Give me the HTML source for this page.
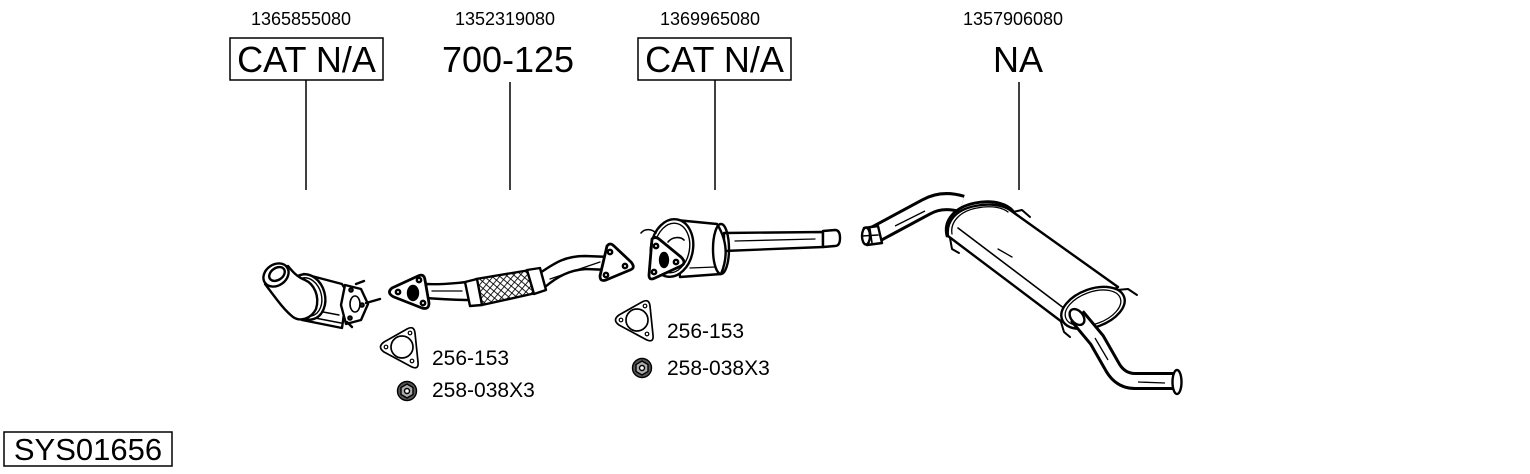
<!DOCTYPE html>
<html><head><meta charset="utf-8"><style>
html,body{margin:0;padding:0;background:#fff;}
svg{display:block;}
text{font-family:"Liberation Sans",Arial,sans-serif;fill:#000;}
</style></head><body>
<svg width="1530" height="474" viewBox="0 0 1530 474" xmlns="http://www.w3.org/2000/svg">
<defs>
<pattern id="hx" width="5" height="5" patternUnits="userSpaceOnUse" patternTransform="rotate(40)">
<rect width="5" height="5" fill="#fff"/>
<path d="M0,0 L0,5 M0,0 L5,0" stroke="#000" stroke-width="1.7"/>
</pattern>
</defs>
<rect width="1530" height="474" fill="#fff"/>

<!-- top labels -->
<text x="301" y="25" font-size="18" text-anchor="middle">1365855080</text>
<rect x="230" y="38" width="153" height="42" fill="none" stroke="#000" stroke-width="1.5"/>
<text x="306.5" y="72" font-size="36" text-anchor="middle">CAT N/A</text>
<line x1="306" y1="80" x2="306" y2="190" stroke="#000" stroke-width="1.5"/>

<text x="505" y="25" font-size="18" text-anchor="middle">1352319080</text>
<text x="508" y="72" font-size="36" text-anchor="middle">700-125</text>
<line x1="510" y1="82" x2="510" y2="190" stroke="#000" stroke-width="1.5"/>

<text x="710" y="25" font-size="18" text-anchor="middle">1369965080</text>
<rect x="638" y="38" width="153" height="42" fill="none" stroke="#000" stroke-width="1.5"/>
<text x="714.5" y="72" font-size="36" text-anchor="middle">CAT N/A</text>
<line x1="715" y1="80" x2="715" y2="190" stroke="#000" stroke-width="1.5"/>

<text x="1013" y="25" font-size="18" text-anchor="middle">1357906080</text>
<text x="1018" y="72" font-size="36" text-anchor="middle">NA</text>
<line x1="1019" y1="82" x2="1019" y2="190" stroke="#000" stroke-width="1.5"/>

<!-- SYS box -->
<rect x="4" y="432" width="168" height="34" fill="none" stroke="#000" stroke-width="1.5"/>
<text x="88" y="460" font-size="31" text-anchor="middle">SYS01656</text>

<!-- ===== Cat 1 ===== -->
<g stroke="#000" stroke-width="2.4" fill="#fff" stroke-linejoin="round" stroke-linecap="round">
<path d="M304,274 L342,284 L347,292 L342,328 L302,320 Z"/>
<line x1="315" y1="318" x2="341" y2="323" stroke-width="1.6"/>
<line x1="318" y1="311" x2="339" y2="315" stroke-width="1.4"/>
<ellipse cx="307" cy="297" rx="18" ry="23" transform="rotate(-15 307 297)"/>
<ellipse cx="307" cy="297" rx="14.5" ry="19.5" transform="rotate(-15 307 297)" fill="none" stroke-width="1.4"/>
<path d="M265,284 C275,297 283,309 293,317 C300,322 311,319 316,309 C320,296 314,284 305,280 C297,277 292,271 288,266 Z"/>
<ellipse cx="276" cy="275" rx="13.5" ry="10.5" transform="rotate(-35 276 275)"/>
<ellipse cx="277" cy="274" rx="8.5" ry="6" transform="rotate(-35 277 274)"/>
<path d="M345,285 L361,289 L368,304 L361,320 L346,324 L341,305 Z"/>
<ellipse cx="355" cy="304" rx="5" ry="8" fill="none" stroke-width="1.6"/>
<circle cx="351" cy="290" r="1.6"/>
<circle cx="362" cy="305" r="1.6"/>
<circle cx="350" cy="318" r="1.6"/>
<line x1="356" y1="284" x2="364" y2="281"/>
<line x1="366" y1="303" x2="380" y2="299"/>
<line x1="347" y1="322" x2="352" y2="327"/>
</g>

<!-- ===== Pipe 700-125 ===== -->
<g stroke="#000" stroke-width="2.4" fill="#fff" stroke-linejoin="round" stroke-linecap="round">
<path d="M426,284 C440,285 455,283 468,282 L470,300 C455,300 440,299 426,298 Z"/>
<line x1="432" y1="291" x2="462" y2="291" stroke-width="1.3"/>
<path d="M392,288 L418,276 Q424,273 425,280 L429,303 Q429,310 422,308 L394,297 Q386,293 392,288 Z" stroke-width="2.8"/>
<circle cx="398" cy="292" r="2.2"/>
<circle cx="419" cy="280" r="2.2"/>
<circle cx="423" cy="303" r="2.2"/>
<ellipse cx="413" cy="293" rx="5" ry="7" fill="#000"/>
<path d="M540,273 C556,262 566,256 585,256 L611,257 L610,270 L586,269 C570,270 558,276 545,287 Z"/>
<line x1="550" y1="279" x2="600" y2="262" stroke-width="1.3"/>
<path d="M476,279 L530,270 L536,293 L482,305 Z" fill="url(#hx)"/>
<path d="M465,282 L477,279 L482,305 L470,306 Z"/>
<path d="M527,270 L540,268 L546,290 L534,294 Z"/>
<path d="M607,246 Q610,242 614,246 L631,262 Q636,268 630,270 L606,280 Q600,282 600,276 Z" stroke-width="2.8"/>
<circle cx="610" cy="252" r="2.2"/>
<circle cx="625" cy="266" r="2.2"/>
<circle cx="606" cy="275" r="2.2"/>
</g>

<!-- ===== Cat 2 ===== -->
<g stroke="#000" stroke-width="2.4" fill="#fff" stroke-linejoin="round" stroke-linecap="round">
<path d="M724,233 L823,232 L823,247 L724,251 Z"/>
<line x1="735" y1="241" x2="815" y2="239" stroke-width="1.3"/>
<path d="M823,231 L835,230 Q840,230 840,238 Q840,246 835,246 L823,247 Z"/>
<path d="M676,220 L717,224 Q732,248 721,274 L680,277 Z"/>
<ellipse cx="721" cy="249" rx="8" ry="25" fill="none"/>
<line x1="690" y1="268" x2="715" y2="267" stroke-width="1.3"/>
<ellipse cx="672" cy="248" rx="21" ry="29" transform="rotate(10 672 248)"/>
<ellipse cx="672" cy="248" rx="17.5" ry="25" transform="rotate(10 672 248)" fill="none" stroke-width="1.4"/>
<path d="M641,233 C645,228 652,229 656,233" fill="none" stroke-width="1.6"/>
<path d="M668,242 C672,237 680,236 684,240" fill="none" stroke-width="1.6"/>
<path d="M652,239 Q655,236 659,239 L681,257 Q687,263 681,266 L655,278 Q649,281 649,275 Z" stroke-width="2.8"/>
<circle cx="656" cy="246" r="2.2"/>
<circle cx="676" cy="262" r="2.2"/>
<circle cx="654" cy="272" r="2.2"/>
<ellipse cx="664" cy="260" rx="4" ry="7" fill="#000"/>
</g>

<!-- ===== Muffler ===== -->
<g stroke-linejoin="round" stroke-linecap="butt" fill="none">
<path d="M874,235 L926,207 Q942,198 962,204" stroke="#000" stroke-width="19"/>
<path d="M874,235 L926,207 Q942,198 962,204" stroke="#fff" stroke-width="13"/>
<line x1="895" y1="226" x2="925" y2="211" stroke="#000" stroke-width="1.3"/>
</g>
<g stroke="#000" stroke-width="2.4" fill="#fff" stroke-linejoin="round" stroke-linecap="round">
<path d="M864,228 L878,226 L882,243 L867,245 Z"/>
<ellipse cx="866" cy="236" rx="4" ry="8.5"/>
<line x1="862" y1="236" x2="878" y2="235" stroke-width="1.6"/>
<line x1="870" y1="229" x2="872" y2="243" stroke-width="1.6"/>
<path d="M948,236 C946,222 955,210 975,206 C990,203 1003,205 1010,210 L1118,287 L1062,322 Z"/>
<line x1="958" y1="228" x2="1065" y2="309" stroke-width="1.6"/>
<line x1="998" y1="249" x2="1012" y2="257" stroke-width="1.3"/>
<path d="M947,236 C943,220 955,207 975,203 C995,199 1008,205 1013,211" fill="none" stroke-width="2.8"/>
<path d="M952,234 C950,222 960,211 977,208 C993,205 1003,208 1008,212" fill="none" stroke-width="1.3"/>
<path d="M1013,212 L1022,210 L1030,217" fill="none" stroke-width="2"/>
<path d="M950,238 L952,249 L959,253" fill="none" stroke-width="2"/>
<path d="M1117,290 L1128,289 L1137,295" fill="none" stroke-width="2"/>
<path d="M1061,322 L1064,332 L1070,337" fill="none" stroke-width="2"/>
<ellipse cx="1093" cy="308" rx="33" ry="19" transform="rotate(-20 1093 308)"/>
<ellipse cx="1093" cy="308" rx="29" ry="16" transform="rotate(-20 1093 308)" fill="none" stroke-width="1.3"/>
</g>
<g fill="none" stroke-linejoin="round" stroke-linecap="butt">
<path d="M1077,316 L1097,340 L1113,368 Q1121,381 1135,381 L1174,381" stroke="#000" stroke-width="18"/>
<path d="M1077,316 L1097,340 L1113,368 Q1121,381 1135,381 L1174,381" stroke="#fff" stroke-width="12"/>
<line x1="1138" y1="382" x2="1165" y2="383" stroke="#000" stroke-width="1.3"/>
<line x1="1095" y1="338" x2="1108" y2="360" stroke="#000" stroke-width="1.3"/>
</g>
<g stroke="#000" stroke-width="2.4" fill="#fff">
<ellipse cx="1077" cy="317" rx="6" ry="9" transform="rotate(-40 1077 317)"/>
<ellipse cx="1177" cy="382" rx="4.5" ry="12"/>
</g>

<!-- ===== Gaskets & nuts ===== -->
<g stroke="#000" fill="#fff" stroke-linejoin="round">
<path d="M384,342 Q377,347 384,352 L410,366 Q419,371 418,362 L415,333 Q414,325 407,329 Z" stroke-width="1.7"/>
<circle cx="402" cy="347" r="11" stroke-width="1.7"/>
<circle cx="386" cy="347" r="1.8" stroke-width="1.2"/>
<circle cx="410" cy="333" r="1.8" stroke-width="1.2"/>
<circle cx="412" cy="361" r="1.8" stroke-width="1.2"/>
</g>
<g transform="translate(235,-27)" stroke="#000" fill="#fff" stroke-linejoin="round">
<path d="M384,342 Q377,347 384,352 L410,366 Q419,371 418,362 L415,333 Q414,325 407,329 Z" stroke-width="1.7"/>
<circle cx="402" cy="347" r="11" stroke-width="1.7"/>
<circle cx="386" cy="347" r="1.8" stroke-width="1.2"/>
<circle cx="410" cy="333" r="1.8" stroke-width="1.2"/>
<circle cx="412" cy="361" r="1.8" stroke-width="1.2"/>
</g>
<g stroke="#000" stroke-width="1.4">
<circle cx="407" cy="391" r="9.5" fill="#555"/>
<polygon points="407,384 413,387.5 413,394.5 407,398 401,394.5 401,387.5" fill="#aaa"/>
<circle cx="407" cy="391" r="2.5" fill="#fff"/>
<circle cx="642" cy="368" r="9.5" fill="#555"/>
<polygon points="642,361 648,364.5 648,371.5 642,375 636,371.5 636,364.5" fill="#aaa"/>
<circle cx="642" cy="368" r="2.5" fill="#fff"/>
</g>
<text x="432" y="365" font-size="21">256-153</text>
<text x="432" y="397" font-size="21">258-038X3</text>
<text x="667" y="338" font-size="21">256-153</text>
<text x="667" y="375" font-size="21">258-038X3</text>
</svg>
</body></html>
